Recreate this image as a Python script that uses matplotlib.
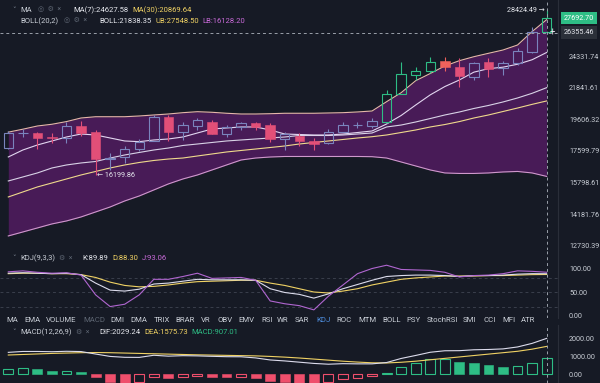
import numpy as np
import matplotlib.pyplot as plt
from matplotlib.ticker import FuncFormatter, NullLocator

plt.rcParams['font.family'] = ['Roboto', 'DejaVu Sans']

# ---- daily candles ----
opens = [17770, 18674, 18737, 18432, 18369, 19157, 18750, 17145, 17215, 17692, 18220, 19735, 18750,
         19176, 19441, 18622, 19111, 19375, 19222, 18306, 18533, 18220, 18058, 18789, 19200, 19157,
         19441, 21349, 22803, 23140, 23920, 23459, 22671, 23863, 23331, 23733, 24692, 26437]
highs = [18853, 18943, 18789, 18724, 19441, 19508, 18899, 17488, 17892, 18306, 19891, 19891, 19441,
         19709, 19555, 19222, 19441, 19441, 19334, 18789, 18686, 18369, 18943, 19441, 19402, 19709,
         21664, 23863, 23459, 24224, 24224, 24141, 23863, 24141, 23944, 24979, 26893, 28424.49]
lows = [17710, 18470, 17710, 18058, 18096, 18533, 16199.86, 16484, 16866, 17590, 18220, 18220, 18263,
        18899, 18641, 18470, 18899, 18899, 18157, 17651, 17911, 17651, 17997, 18750, 19047, 19009,
        19334, 21349, 22417, 22936, 23140, 21865, 22417, 22624, 22803, 23595, 24558, 26200]
closes = [18705, 18705, 18420, 18388, 19157, 18724, 17115, 17174, 17692, 18157, 19735, 18789, 19222,
          19555, 18641, 19073, 19334, 19111, 18325, 18622, 18220, 18016, 18789, 19222, 19240, 19508,
          21349, 22881, 23140, 23863, 23459, 22725, 23781, 23251, 23733, 24777, 26437, 27692.70]

# indicator lines as they appear on the chart
ma7 = [17235, 17651, 17956, 18203, 18453, 18641, 18579, 18390, 18203, 18160, 18265, 18327, 18453,
       18707, 18964, 19030, 19095, 19095, 18899, 18641, 18610, 18579, 18579, 18641, 18737, 18835,
       19290, 19859, 20583, 21307, 21920, 22418, 23028, 23300, 23422, 23656, 24023, 24627.58]
ma30 = [15035, 15294, 15558, 15771, 15988, 16208, 16403, 16600, 16771, 16914, 17030, 17115, 17174,
        17294, 17412, 17532, 17622, 17711, 17802, 17895, 18016, 18110, 18203, 18296, 18390, 18471,
        18579, 18737, 18899, 19095, 19254, 19450, 19690, 19893, 20131, 20372, 20628, 20869.64]
boll_mid = [15879, 16098, 16320, 16600, 16771, 16886, 16972, 17174, 17353, 17503, 17651, 17770, 17925,
            18016, 18110, 18203, 18265, 18327, 18390, 18453, 18547, 18547, 18547, 18579, 18641, 18707,
            19095, 19222, 19423, 19654, 19893, 20097, 20340, 20550, 20797, 21083, 21422, 21838.35]
boll_ub = [18760, 18950, 19159, 19273, 19450, 19690, 19775, 19775, 19775, 19825, 19893, 19960, 20050,
           20118, 20077, 20010, 19960, 19960, 19980, 20010, 20010, 20010, 20030, 20050, 20100, 20166,
           20817, 21466, 22364, 22920, 23515, 23945, 24275, 24557, 24836, 25264, 26447, 27548.50]
boll_lb = [13161, 13341, 13525, 13712, 13852, 14043, 14284, 14530, 14831, 15086, 15399, 15719, 15988,
           16208, 16487, 16771, 17059, 17174, 17234, 17264, 17264, 17264, 17264, 17264, 17264, 17252,
           17174, 16943, 16714, 16487, 16320, 16292, 16292, 16320, 16375, 16403, 16320, 16128.20]

# KDJ(9,3,3)
k_vals = [91, 92, 91, 90, 91, 88, 70, 55, 53, 57, 68, 70, 74, 78, 77, 77, 77, 76, 58, 50, 46, 38, 47,
          58, 67, 76, 84, 86, 87, 87, 86, 84, 86, 86, 87, 89, 90, 89.89]
d_vals = [90, 91, 91, 90, 90, 88, 82, 72, 65, 62, 63, 66, 70, 73, 74, 75, 76, 76, 70, 65, 58, 51, 49,
          53, 58, 66, 72, 78, 81, 83, 85, 85, 85, 86, 86, 87, 88, 88.30]
j_vals = [94, 96, 93, 91, 92, 87, 45, 20, 25, 45, 78, 78, 84, 91, 80, 81, 82, 76, 32, 26, 22, 13, 42,
          66, 90, 101, 108, 99, 98, 97, 93, 83, 86, 87, 90, 96, 95, 93.06]

# MACD(12,26,9)
dea = [1090, 1120, 1150, 1180, 1200, 1220, 1230, 1220, 1200, 1180, 1160, 1140, 1120, 1100, 1085, 1070,
       1055, 1040, 1010, 970, 920, 860, 800, 740, 690, 650, 640, 680, 740, 820, 900, 980, 1060, 1140,
       1220, 1300, 1420, 1575.73]
dif = [1240, 1290, 1290, 1275, 1300, 1285, 1145, 1010, 960, 955, 1075, 1025, 1052, 1040, 1015, 995,
       990, 925, 810, 755, 685, 615, 570, 600, 590, 590, 665, 895, 1065, 1245, 1330, 1335, 1385, 1402,
       1435, 1545, 1747, 2029.24]
macd_hist = [300, 340, 280, 190, 200, 130, -170, -420, -480, -450, -170, -230, -135, -120, -140, -150,
             -130, -230, -400, -430, -470, -490, -460, -280, -200, -120, 50, 430, 650, 850, 860, 710,
             650, 525, 430, 490, 655, 907.01]

price_ticks = [24331.74, 21841.61, 19606.32, 17599.79, 15798.61, 14181.76, 12730.39]
cross_price = 26355.46
kdj_ticks = [100, 50, 0]
macd_ticks = [2000, 1000, 0]
tabs = ['MA', 'EMA', 'VOLUME', 'MACD', 'DMI', 'DMA', 'TRIX', 'BRAR', 'VR', 'OBV', 'EMV', 'RSI', 'WR',
        'SAR', 'KDJ', 'ROC', 'MTM', 'BOLL', 'PSY', 'StochRSI', 'SMI', 'CCI', 'MFI', 'ATR']
tab_x = [6, 24, 46, 83, 110, 130, 154, 175, 201, 217, 238, 261, 277, 295, 316, 336, 358, 382, 406,
         427, 463, 483, 502, 521]

W, H = 600, 383
BG = '#161a25'
UP = '#2ebd85'
DOWN = '#ef4f6c'
UP_IN = '#7a84bd'     # hollow up candle seen through the band fill
DOWN_IN = '#e24f78'   # red candle seen through the band fill
DOWN_OUT = '#f0625c'
GRAY = '#848e9c'
LIGHT = '#c9ced6'
WHITE = '#e6e8ee'
YEL = '#f0d264'
PURP = '#c86ad8'

fig = plt.figure(figsize=(6, 3.83), dpi=100)
fig.patch.set_facecolor(BG)


def box(x0, y0, x1, y1):
    return fig.add_axes([x0 / W, 1 - y1 / H, (x1 - x0) / W, (y1 - y0) / H])


def put(x, y, s, **kw):
    fig.text(x / W, 1 - y / H, s, va='center', **kw)


x = np.arange(len(closes))
xl = (-0.57, 37.78)


def style(ax, ticks, fmt):
    ax.set_facecolor(BG)
    ax.set_xlim(*xl)
    ax.set_xticks([])
    ax.yaxis.tick_right()
    ax.set_yticks(ticks)
    ax.yaxis.set_minor_locator(NullLocator())
    ax.yaxis.set_major_formatter(FuncFormatter(fmt))
    ax.tick_params(axis='y', length=0, pad=8, labelsize=5.2, labelcolor=LIGHT)
    for s in ['top', 'left', 'bottom']:
        ax.spines[s].set_visible(False)
    ax.spines['right'].set_color('#2a2e39')
    ax.spines['right'].set_linewidth(0.8)


# ---- main price pane ----
ax = box(0, 0, 558, 250)
ax.set_yscale('log')
style(ax, price_ticks, lambda v, _: f'{v:.2f}')
ax.set_ylim(12544, 29461)

ax.fill_between(x, boll_lb, boll_ub, color='#6a1c7a', alpha=0.6, lw=0, zorder=2)

bw = 0.65
for i in x:
    o, h, l, c = opens[i], highs[i], lows[i], closes[i]
    outside = max(o, c) > boll_ub[i]
    if c >= o:
        col = UP if outside else UP_IN
        ax.bar(i, max(c - o, 1), bottom=o, width=bw, fill=False, edgecolor=col, lw=0.8, zorder=4)
        ax.vlines(i, c, h, color=col, lw=0.8, zorder=4)
        ax.vlines(i, l, o, color=col, lw=0.8, zorder=4)
    else:
        col = DOWN_OUT if outside else DOWN_IN
        ax.bar(i, o - c, bottom=c, width=bw, color=col, edgecolor=col, lw=0.4, zorder=4)
        ax.vlines(i, l, h, color=col, lw=0.8, zorder=3.9)

ax.plot(x, boll_ub, color='#e6b6aa', lw=0.8, zorder=3)
ax.plot(x, boll_lb, color='#cf98cc', lw=0.8, zorder=3)
ax.plot(x, boll_mid, color='#d8d2e6', lw=0.8, zorder=3)
ax.plot(x, ma30, color='#efd98c', lw=0.8, zorder=3)
ax.plot(x, ma7, color='#e2d6f0', lw=0.8, zorder=3)

ax.axhline(cross_price, color='#9aa0aa', lw=0.7, ls=(0, (3, 3)), zorder=5)
ax.axvline(x[-1], color='#9aa0aa', lw=0.7, ls=(0, (3, 3)), zorder=5)

i_lo = int(np.argmin(lows))
ax.text(i_lo + 0.1, lows[i_lo], f'\u2190 {lows[i_lo]:.2f}', color=WHITE, fontsize=5.2,
        va='center', ha='left', zorder=6)
i_hi = int(np.argmax(highs))
ax.text(i_hi - 0.15, highs[i_hi], f'{highs[i_hi]:.2f} \u2192', color=WHITE, fontsize=5.2,
        va='center', ha='right', zorder=6)

# ---- KDJ pane ----
ak = box(0, 250, 558, 318)
style(ak, kdj_ticks, lambda v, _: f'{v:.2f}')
ak.set_ylim(-4.3, 140.4)
for lev in [20, 50, 80]:
    ak.axhline(lev, color='#3a3f4c', lw=0.7, ls=(0, (3, 3)))
ak.plot(x, d_vals, color=YEL, lw=0.8)
ak.plot(x, k_vals, color='#dcdcec', lw=0.8)
ak.plot(x, j_vals, color='#b066d0', lw=0.8)
ak.axvline(x[-1], color='#9aa0aa', lw=0.7, ls=(0, (3, 3)))

# ---- MACD pane ----
am = box(0, 325, 558, 383)
style(am, macd_ticks, lambda v, _: f'{v:.2f}')
am.set_ylim(-491.5, 2785)
prev = None
for i, v in enumerate(macd_hist):
    rising = prev is None or v >= prev
    col = UP if v >= 0 else DOWN
    if rising:
        am.bar(i, v, width=0.68, fill=False, edgecolor=col, lw=0.8)
    else:
        am.bar(i, v, width=0.68, color=col, edgecolor=col, lw=0.4)
    prev = v
am.plot(x, dea, color=YEL, lw=0.8)
am.plot(x, dif, color='#dcdcec', lw=0.8)
am.axvline(x[-1], color='#9aa0aa', lw=0.7, ls=(0, (3, 3)))

# ---- legends / labels ----
fs = 5.5
put(12, 10, '\u02c5', color=GRAY, fontsize=5)
put(20, 10, 'MA', color=LIGHT, fontsize=fs)
put(38, 10, '\u25ce  \u2699  \u00d7', color='#5e6673', fontsize=5)
put(73, 10, f'MA(7):{ma7[-1]:.2f}', color=WHITE, fontsize=fs)
put(132, 10, f'MA(30):{ma30[-1]:.2f}', color=YEL, fontsize=fs)
put(20, 21, 'BOLL(20,2)', color=LIGHT, fontsize=fs)
put(64, 21, '\u25ce  \u2699  \u00d7', color='#5e6673', fontsize=5)
put(99, 21, f'BOLL:{boll_mid[-1]:.2f}', color=WHITE, fontsize=fs)
put(155, 21, f'UB:{boll_ub[-1]:.2f}', color=YEL, fontsize=fs)
put(202, 21, f'LB:{boll_lb[-1]:.2f}', color=PURP, fontsize=fs)

put(12, 258, '\u02c5', color=GRAY, fontsize=5)
put(20, 258, 'KDJ(9,3,3)', color=LIGHT, fontsize=fs)
put(59, 258, '\u2699  \u00d7', color='#5e6673', fontsize=5)
put(82, 258, f'K:{k_vals[-1]:.2f}', color=WHITE, fontsize=fs)
put(112, 258, f'D:{d_vals[-1]:.2f}', color=YEL, fontsize=fs)
put(142, 258, f'J:{j_vals[-1]:.2f}', color=PURP, fontsize=fs)

for t, tx in zip(tabs, tab_x):
    c = '#5e6673' if t == 'MACD' else ('#4f8fe0' if t == 'KDJ' else LIGHT)
    put(tx, 320, t, color=c, fontsize=5.6)

put(12, 332, '\u02c5', color=GRAY, fontsize=5)
put(20, 332, 'MACD(12,26,9)', color=LIGHT, fontsize=fs)
put(76, 332, '\u2699  \u00d7', color='#5e6673', fontsize=5)
put(99, 332, f'DIF:{dif[-1]:.2f}', color=WHITE, fontsize=fs)
put(144, 332, f'DEA:{dea[-1]:.2f}', color=YEL, fontsize=fs)
put(191, 332, f'MACD:{macd_hist[-1]:.2f}', color=UP, fontsize=fs)

# price boxes on the right axis
put(579, 18, f'{closes[-1]:.2f}', color='white', fontsize=5.2, ha='center',
    bbox=dict(boxstyle='square,pad=0.35', fc=UP, ec='none'))
put(579, 32.5, f'{cross_price:.2f}', color=WHITE, fontsize=5.2, ha='center',
    bbox=dict(boxstyle='square,pad=0.35', fc='#2b3039', ec='none'))
put(552, 33, '+', color=WHITE, fontsize=7, ha='center')

fig.savefig('out.png', dpi=100, facecolor=BG)
